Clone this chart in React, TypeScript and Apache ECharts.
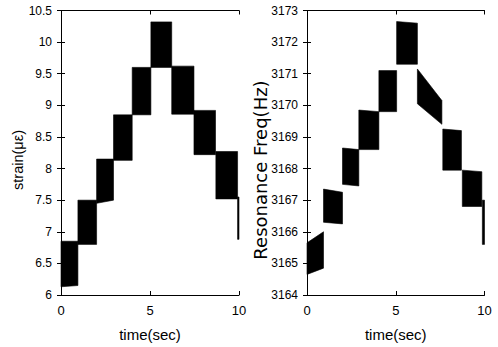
import React, { useEffect, useRef } from "react";
import * as echarts from "echarts";

// Left panel: strain steps (time in sec, strain in με)
const strainStart = [0, 0.95, 2.0, 2.95, 4.0, 5.05, 6.22, 7.47, 8.7, 9.92];
const strainEnd = [0.95, 2.0, 2.95, 4.0, 5.05, 6.22, 7.47, 8.68, 9.92, 10];
const strainLowStart = [6.13, 6.8, 7.45, 8.13, 8.85, 9.6, 8.86, 8.22, 7.52, 6.88];
const strainLowEnd = [6.15, 6.8, 7.5, 8.13, 8.85, 9.6, 8.86, 8.22, 7.52, 6.88];
const strainHighStart = [6.85, 7.5, 8.15, 8.85, 9.6, 10.32, 9.62, 8.92, 8.27, 7.55];
const strainHighEnd = [6.85, 7.5, 8.15, 8.85, 9.6, 10.32, 9.62, 8.92, 8.27, 7.55];

// Right panel: resonance frequency steps (Hz)
const freqStart = [0, 0.93, 2.0, 2.92, 4.05, 5.05, 6.22, 7.65, 8.75, 9.88];
const freqEnd = [0.93, 2.0, 2.92, 4.05, 5.05, 6.22, 7.6, 8.7, 9.85, 10];
const freqLowStart = [3164.65, 3166.3, 3167.5, 3168.6, 3169.8, 3171.3, 3170.05, 3167.95, 3166.8, 3165.6];
const freqLowEnd = [3164.85, 3166.25, 3167.45, 3168.6, 3169.8, 3171.3, 3169.4, 3167.95, 3166.8, 3165.6];
const freqHighStart = [3165.65, 3167.35, 3168.65, 3169.85, 3171.1, 3172.65, 3171.15, 3169.25, 3167.95, 3167.0];
const freqHighEnd = [3166.0, 3167.25, 3168.6, 3169.8, 3171.1, 3172.6, 3170.15, 3169.2, 3167.9, 3167.0];

const timeTicks = [0, 5, 10];
const strainName = "strain(με)";
const freqName = "Resonance Freq(Hz)";
const timeName = "time(sec)";

const FONT = "'Liberation Sans', Arial, Helvetica, sans-serif";

function buildSteps(s: number[], e: number[], ls: number[], le: number[], hs: number[], he: number[]) {
  return s.map((v, i) => [v, e[i], ls[i], hs[i], le[i], he[i]]);
}

const renderStep = (params: any, api: any) => {
  const t0 = api.value(0);
  const t1 = api.value(1);
  const a = api.coord([t0, api.value(2)]);
  const b = api.coord([t1, api.value(4)]);
  const c = api.coord([t1, api.value(5)]);
  const d = api.coord([t0, api.value(3)]);
  return {
    type: "polygon",
    shape: { points: [a, b, c, d] },
    style: { fill: "#000", stroke: "#000", lineWidth: 0.6 },
  };
};

function fmtTick(v: number) {
  return Number.isInteger(v) ? String(v) : v.toFixed(1);
}

export default function App() {
  const ref = useRef<HTMLDivElement>(null);
  useEffect(() => {
    document.body.style.margin = "0";
    document.body.style.background = "#fff";
    if (!ref.current) return;
    const chart = echarts.init(ref.current, null, { renderer: "svg" });
    const axisLine = { show: true, lineStyle: { color: "#000", width: 1 } };
    const tickIn = { show: true, inside: true, length: 4, lineStyle: { color: "#000" } };
    const mkX = (grid: number) => [
      {
        type: "value",
        gridIndex: grid,
        min: 0,
        max: 10,
        interval: 5,
        axisLine,
        axisTick: tickIn,
        splitLine: { show: false },
        axisLabel: { color: "#000", fontSize: 13, margin: 9, fontFamily: FONT, formatter: (v: number) => (timeTicks.includes(v) ? String(v) : "") },
        name: timeName,
        nameLocation: "middle",
        nameGap: 32,
        nameTextStyle: { color: "#000", fontSize: 15, fontFamily: FONT },
      },
      {
        type: "value",
        gridIndex: grid,
        position: "top",
        min: 0,
        max: 10,
        interval: 5,
        axisLine,
        axisTick: tickIn,
        splitLine: { show: false },
        axisLabel: { show: false },
      },
    ];
    const mkY = (grid: number, min: number, max: number, interval: number) => [
      {
        type: "value",
        gridIndex: grid,
        min,
        max,
        interval,
        axisLine,
        axisTick: tickIn,
        splitLine: { show: false },
        axisLabel: { color: "#000", fontSize: 12, margin: 9, fontFamily: FONT, formatter: fmtTick },
      },
      {
        type: "value",
        gridIndex: grid,
        position: "right",
        min,
        max,
        interval,
        axisLine,
        axisTick: tickIn,
        splitLine: { show: false },
        axisLabel: { show: false },
      },
    ];
    chart.setOption({
      animation: false,
      backgroundColor: "#fff",
      grid: [
        { left: 61, right: 259, top: 10.5, bottom: 48 },
        { left: 307, right: 13.5, top: 10.5, bottom: 48 },
      ],
      xAxis: [...mkX(0), ...mkX(1)],
      yAxis: [...mkY(0, 6, 10.5, 0.5), ...mkY(1, 3164, 3173, 1)],
      graphic: [
        {
          type: "text",
          x: 18,
          y: 160,
          rotation: Math.PI / 2,
          style: {
            text: strainName,
            fill: "#000",
            fontSize: 14.5,
            fontFamily: FONT,
            textAlign: "center",
            textVerticalAlign: "middle",
            align: "center",
            verticalAlign: "middle",
          },
        },
        {
          type: "text",
          x: 260,
          y: 170,
          rotation: Math.PI / 2,
          style: {
            text: freqName,
            fill: "#000",
            fontSize: 18,
            fontFamily: "'DejaVu Sans', sans-serif",
            textAlign: "center",
            textVerticalAlign: "middle",
            align: "center",
            verticalAlign: "middle",
          },
        },
      ],
      series: [
        {
          type: "custom",
          xAxisIndex: 0,
          yAxisIndex: 0,
          renderItem: renderStep,
          encode: { x: [0, 1], y: [2, 3, 4, 5] },
          data: buildSteps(strainStart, strainEnd, strainLowStart, strainLowEnd, strainHighStart, strainHighEnd),
        },
        {
          type: "custom",
          xAxisIndex: 2,
          yAxisIndex: 2,
          renderItem: renderStep,
          encode: { x: [0, 1], y: [2, 3, 4, 5] },
          data: buildSteps(freqStart, freqEnd, freqLowStart, freqLowEnd, freqHighStart, freqHighEnd),
        },
      ],
    });
    return () => chart.dispose();
  }, []);
  return <div ref={ref} style={{ width: 498, height: 347 }} />;
}
